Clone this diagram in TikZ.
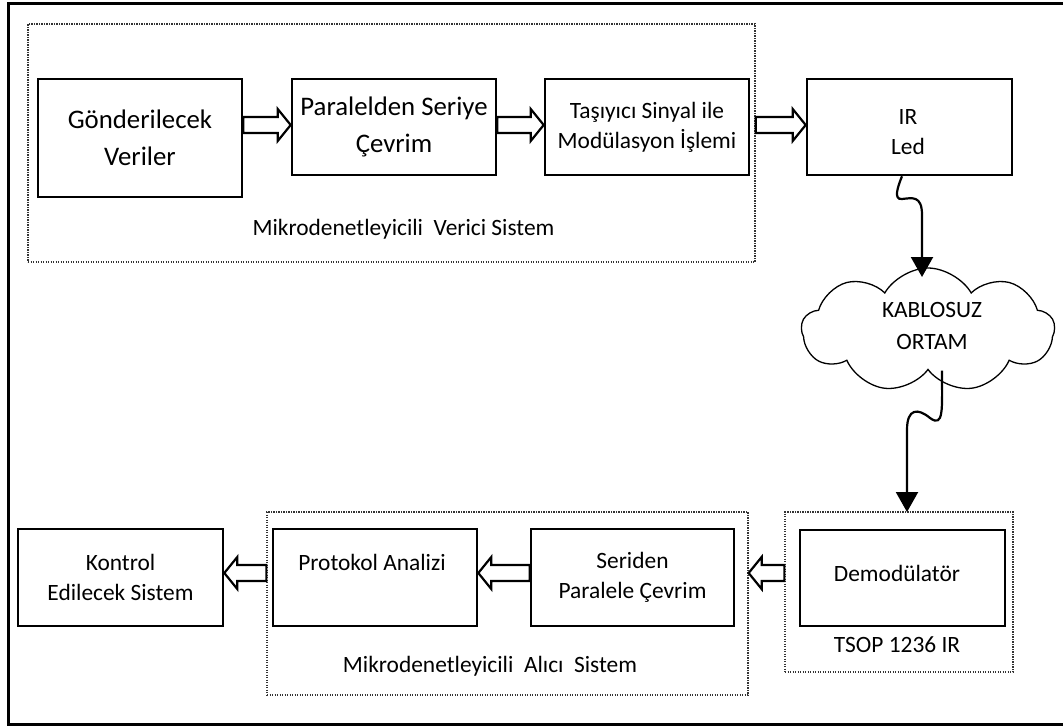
\documentclass[tikz,border=0pt]{standalone}
\usepackage{fontspec}
\setmainfont{Carlito}
\usetikzlibrary{calc,shapes.symbols,arrows.meta}
\newcommand\bigtxt{\fontsize{26.8pt}{37pt}\selectfont}
\newcommand\smalltxt{\fontsize{23.4pt}{30pt}\selectfont}
\tikzset{
  blk/.style={draw, line width=2.6pt, rectangle, inner sep=0pt, align=center, font=\smalltxt},
  grp/.style={draw=black!80, line width=1.3pt, dash pattern=on 1.3pt off 1.2pt, rectangle, inner sep=0pt},
  hollow/.style={draw, fill=white, line width=2.2pt, line join=miter},
  wavy/.style={line width=2.2pt, -{Triangle[width=22pt,length=20pt]}},
  lbl/.style={inner sep=0pt, font=\smalltxt, align=center},
}
\newcommand\hollowarr[2]{%
  \draw[hollow] let \p1=#1, \p2=#2, \n1={(\x2>\x1)*2-1} in
    (\x1,\y1+8pt) -- (\x2-\n1*13pt,\y1+8pt) -- (\x2-\n1*13pt,\y1+16pt) -- (\x2,\y1)
    -- (\x2-\n1*13pt,\y1-16pt) -- (\x2-\n1*13pt,\y1-8pt) -- (\x1,\y1-8pt) -- cycle;}
\begin{document}
\begin{tikzpicture}[x=1pt,y=-1pt]
\useasboundingbox (0,0) rectangle (1063,726);
\draw[line width=3pt] (8,3) rectangle (1080,724.5);

% transmitter group
\node[grp, minimum width=727, minimum height=238] (verici) at (391.5,143) {};
\node[blk, font=\bigtxt, minimum width=204, minimum height=118] (gond) at (140,138) {Gönderilecek\\Veriler};
\node[blk, font=\bigtxt, minimum width=204, minimum height=96] (par) at (394,127) {Paralelden Seriye\\Çevrim};
\node[blk, minimum width=204, minimum height=96] (tas) at (647,127) {Taşıyıcı Sinyal ile\\Modülasyon İşlemi};
\node[blk, minimum width=205, minimum height=96] (ir) at (909.5,127) {};
\node[lbl] (irtext) at (908,132) {IR\\Led};
\node[lbl] (vlabel) at (403.5,229) {Mikrodenetleyicili\ \ Verici Sistem};

% wireless medium
\node[cloud, draw, line width=1.3pt, cloud puffs=9, cloud puff arc=120, aspect=2.04,
      minimum width=253, minimum height=124, inner sep=0pt] (cloud) at (928,330) {};
\node[lbl, font=\fontsize{23.4pt}{32pt}\selectfont] (ctext) at (932,326) {KABLOSUZ\\ORTAM};

% receiver side
\node[grp, minimum width=481, minimum height=183] (alici) at (507.5,603.5) {};
\node[grp, minimum width=228, minimum height=160] (tsop) at (899,592) {};
\node[blk, minimum width=205, minimum height=97] (kontrol) at (120.5,577.5) {Kontrol\\Edilecek Sistem};
\node[blk, minimum width=204, minimum height=97] (prot) at (375,577.5) {};
\node[lbl] (prottext) at (372,562) {Protokol Analizi};
\node[blk, minimum width=203, minimum height=97] (seri) at (632.5,577.5) {Seriden\\Paralele Çevrim};
\node[blk, minimum width=205, minimum height=96] (demod) at (902.5,578) {};
\node[lbl] (demodtext) at (897,573) {Demodülatör};
\node[lbl] (tsoplabel) at (897,645) {TSOP 1236 IR};
\node[lbl] (alabel) at (490,666) {Mikrodenetleyicili\ \ Alıcı\ \ Sistem};

% hollow block arrows
\coordinate (ytop) at (0,125);
\coordinate (ylow) at (0,573);
\hollowarr{(gond.east |- ytop)}{(par.west |- ytop)}
\hollowarr{(par.east |- ytop)}{(tas.west |- ytop)}
\hollowarr{(verici.east |- ytop)}{(ir.west |- ytop)}
\hollowarr{(tsop.west |- ylow)}{(alici.east |- ylow)}
\hollowarr{(seri.west |- ylow)}{(prot.east |- ylow)}
\hollowarr{(alici.west |- ylow)}{(kontrol.east |- ylow)}

% wavy wireless arrows
\coordinate (w1end) at (922,277);
\coordinate (w2end) at (907,512);
\draw[wavy] ($(ir.south)+(-7.5,0)$) .. controls (898,186) and (893,200) .. (902,199)
   .. controls (912,198) and (922,195) .. (922,215) -- (w1end);
\draw[wavy] ($(cloud.south)+(14,0)$) .. controls (942,410) and (944,428) .. (930,418)
   .. controls (918,408) and (907,408) .. (907,430) -- (w2end);
\end{tikzpicture}
\end{document}
